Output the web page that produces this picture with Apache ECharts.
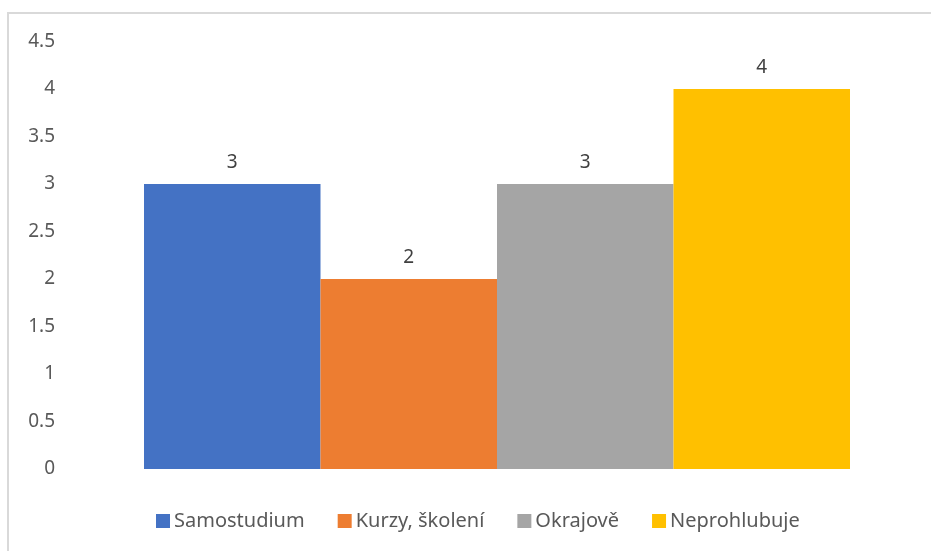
<!DOCTYPE html>
<html>
<head>
<meta charset="utf-8">
<script src="https://cdn.jsdelivr.net/npm/echarts@6/dist/echarts.min.js"></script>
<style>
  html, body { margin: 0; padding: 0; background: #fff; }
  #chart { width: 931px; height: 551px; }
</style>
</head>
<body>
<div id="chart"></div>
<script>
// data
const seriesNames = ['Samostudium', 'Kurzy, školení', 'Okrajově', 'Neprohlubuje'];
const seriesValues = [3, 2, 3, 4];
const seriesColors = ['#4472C4', '#ED7D31', '#A5A5A5', '#FFC000'];
const yTicks = [0, 0.5, 1, 1.5, 2, 2.5, 3, 3.5, 4, 4.5];

const font = '"Noto Sans", sans-serif';
const myChart = echarts.init(document.getElementById('chart'));

const series = seriesNames.map(function (name, i) {
  return {
    name: name,
    type: 'bar',
    data: [seriesValues[i]],
    barGap: '0%',
    barCategoryGap: '0%',
    itemStyle: { color: seriesColors[i] },
    label: {
      show: true,
      position: 'top',
      distance: 12,
      color: '#404040',
      fontSize: 19,
      fontFamily: font
    }
  };
});

const option = {
  animation: false,
  backgroundColor: '#fff',
  graphic: [{
    type: 'rect',
    shape: { x: 8, y: 13, width: 940, height: 560 },
    style: { fill: 'none', stroke: '#d9d9d9', lineWidth: 2 },
    z: -1
  }],
  grid: { left: 144, top: 41.5, right: 81, bottom: 82 },
  legend: {
    top: 506,
    left: 151,
    itemWidth: 14,
    itemHeight: 14,
    itemGap: 33,
    icon: 'rect',
    textStyle: { color: '#595959', fontSize: 20, fontFamily: font, padding: [0, 0, 0, -1] },
    data: seriesNames
  },
  xAxis: {
    type: 'category',
    data: [''],
    axisLine: { show: false },
    axisTick: { show: false },
    axisLabel: { show: false }
  },
  yAxis: {
    type: 'value',
    min: yTicks[0],
    max: yTicks[yTicks.length - 1],
    interval: 0.5,
    axisLine: { show: false },
    axisTick: { show: false },
    splitLine: { show: false },
    axisLabel: { color: '#595959', fontSize: 19, fontFamily: font, margin: 89 }
  },
  series: series
};

myChart.setOption(option);
</script>
</body>
</html>
